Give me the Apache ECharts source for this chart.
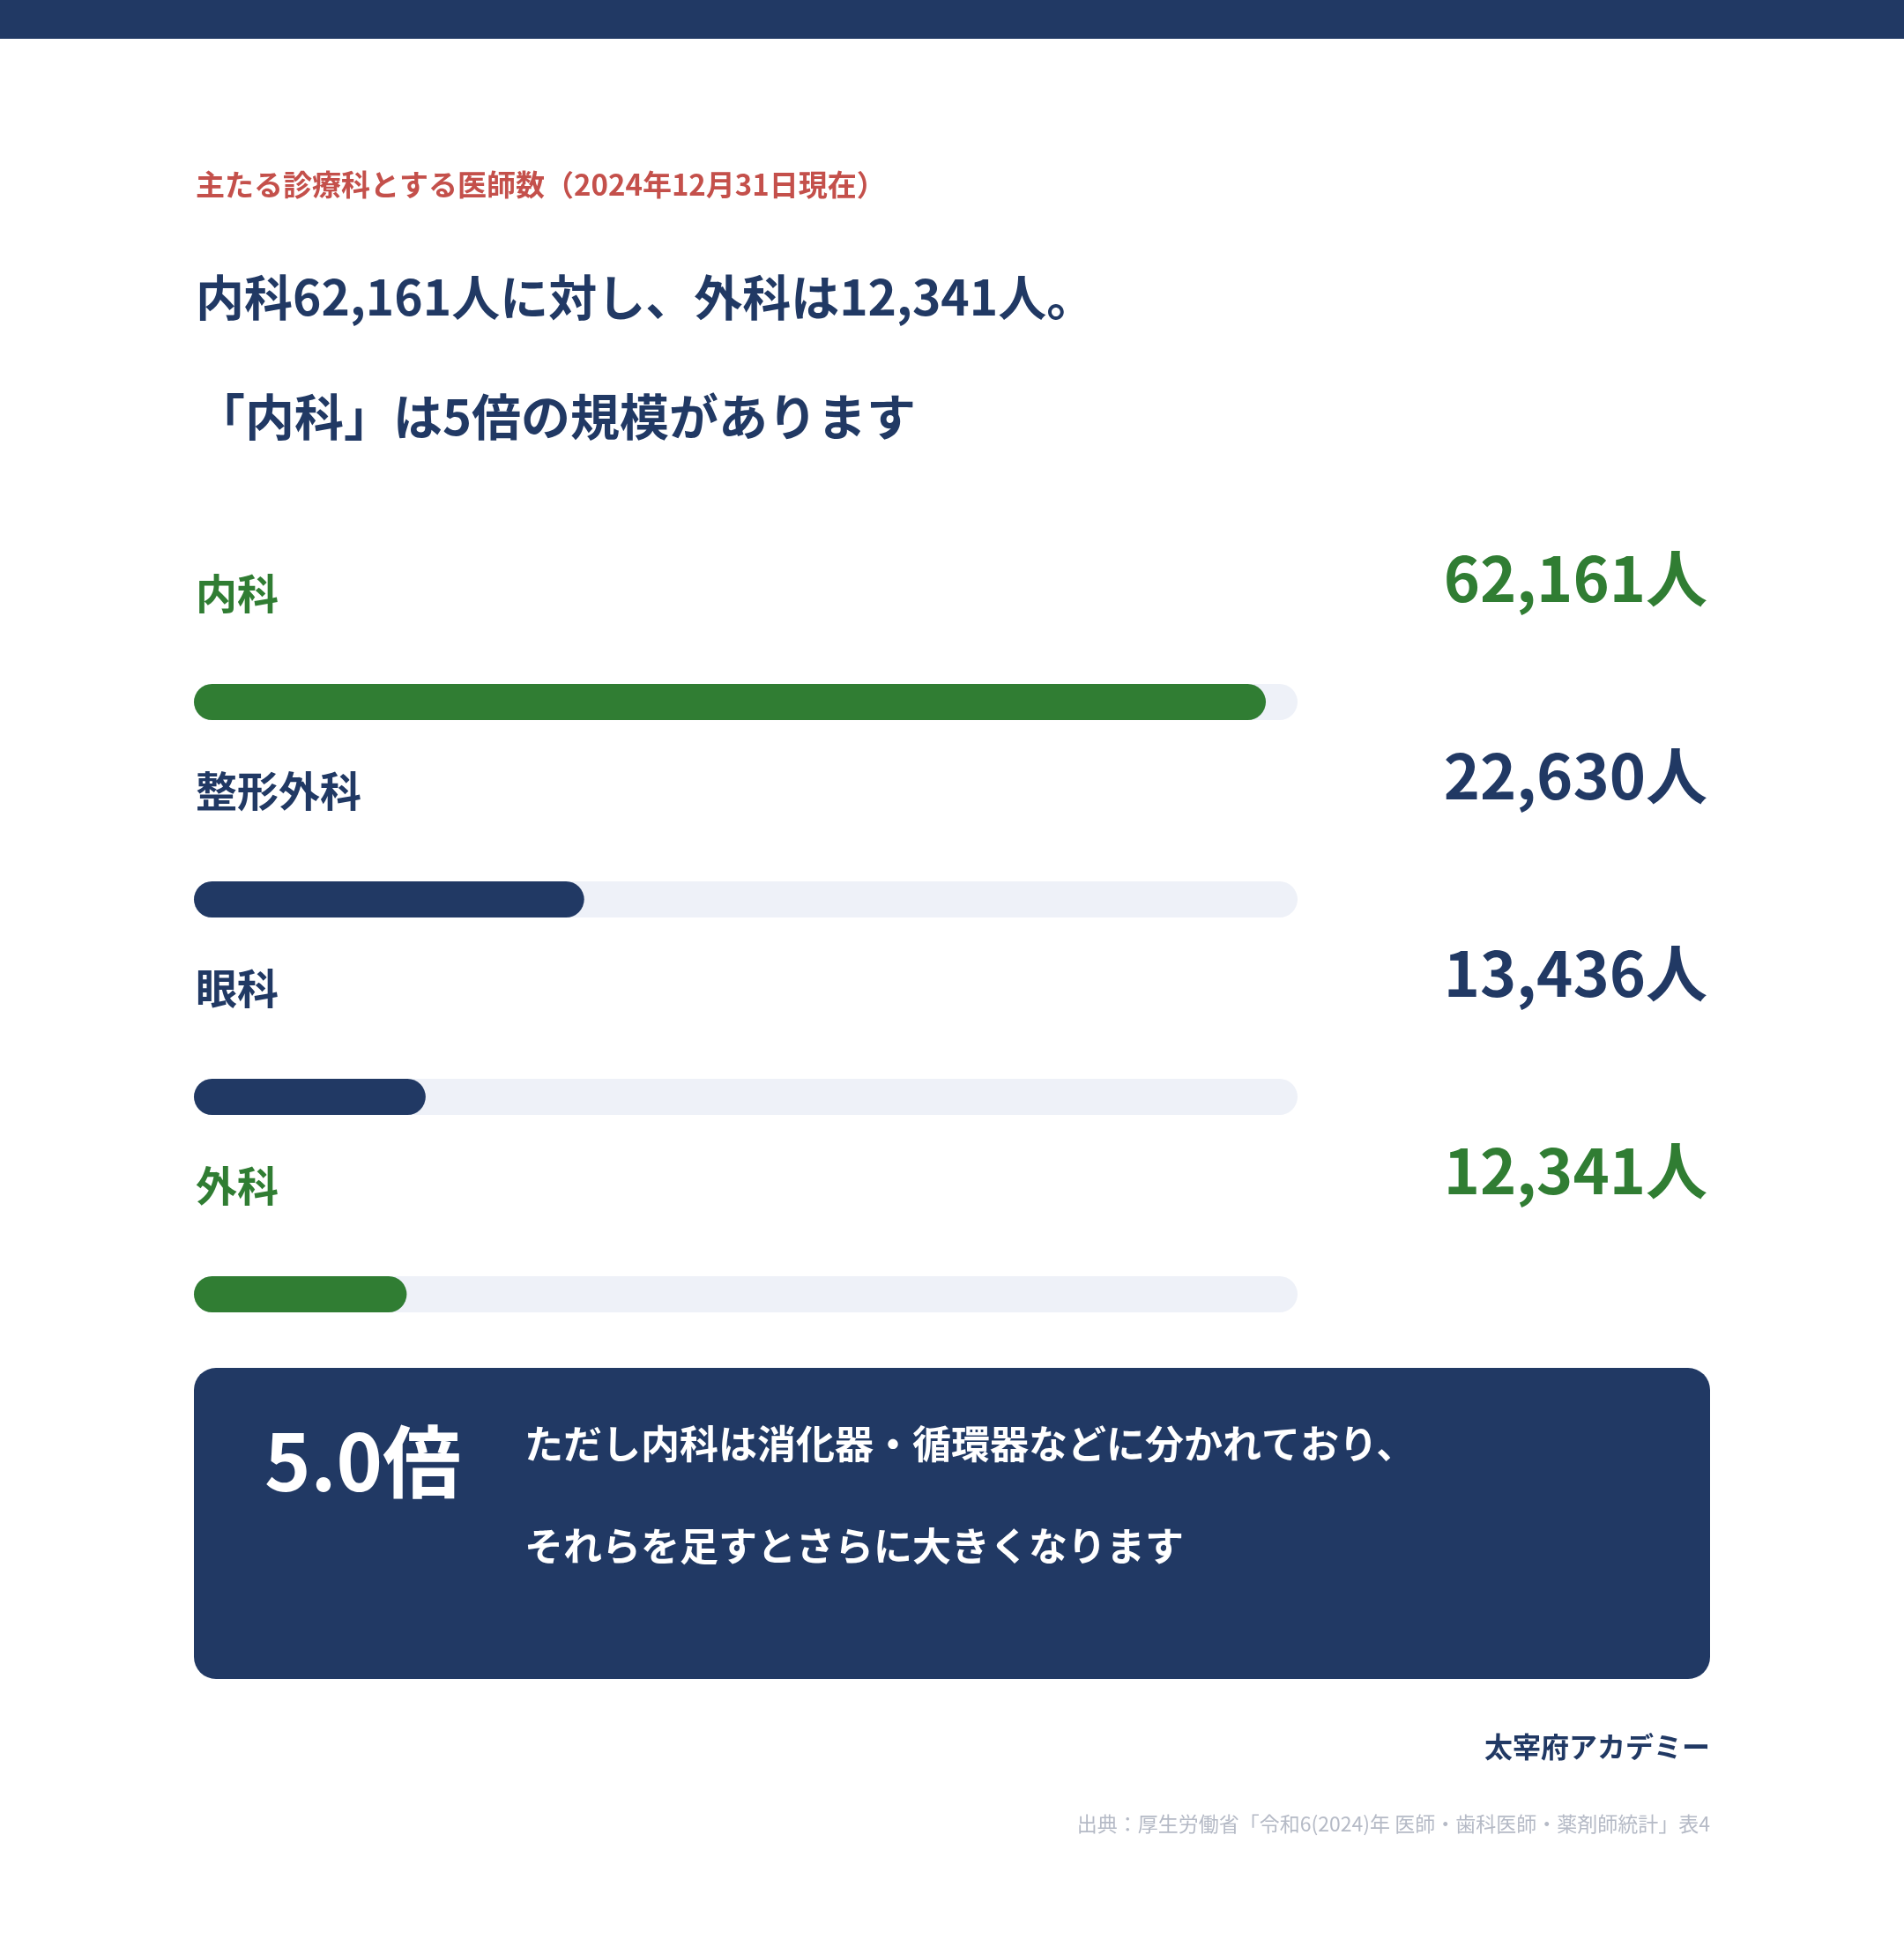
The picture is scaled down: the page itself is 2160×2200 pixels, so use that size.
<!DOCTYPE html>
<html lang="ja">
<head>
<meta charset="utf-8">
<title>主たる診療科とする医師数</title>
<script src="https://cdn.jsdelivr.net/npm/echarts@6/dist/echarts.min.js"></script>
<style>
  html, body { margin: 0; padding: 0; background: #ffffff; }
  #container { width: 2160px; height: 2200px; }
</style>
</head>
<body>
<div id="container"></div>
<script>
// 診療科ごとの医師数（2024年12月31日現在）
var categories = ['内科', '整形外科', '眼科', '外科'];
var doctors = [62161, 22630, 13436, 12341];
var highlighted = ['内科', '外科'];
var axisMax = 64000;

var NAVY = '#213964';
var GREEN = '#307d33';
var TRACK = '#eef1f8';
var FONT = '"Noto Sans CJK JP", "Noto Sans", sans-serif';

function fmt(v) {
    return v.toLocaleString('en-US');
}
function colorOf(name) {
    return highlighted.indexOf(name) >= 0 ? GREEN : NAVY;
}

var ratio = (doctors[0] / doctors[3]).toFixed(1);

document.addEventListener('DOMContentLoaded', function () {
    var dom = document.getElementById('container');
    var myChart = echarts.init(dom, null, { renderer: 'canvas' });

    var barData = categories.map(function (name, i) {
        return {
            value: doctors[i],
            itemStyle: { color: colorOf(name) },
            label: { color: colorOf(name) }
        };
    });
    var valueData = categories.map(function (name, i) {
        return {
            value: [axisMax, name],
            label: { color: colorOf(name), formatter: fmt(doctors[i]) + '人' }
        };
    });

    var option = {
        animation: false,
        backgroundColor: '#ffffff',
        textStyle: { fontFamily: FONT },
        grid: { left: 220, top: 684.5, width: 1252, height: 896, containLabel: false },
        xAxis: { type: 'value', min: 0, max: axisMax, show: false },
        yAxis: { type: 'category', data: categories, inverse: true, show: false },
        graphic: [
            { type: 'rect', shape: { x: 0, y: 0, width: 2160, height: 44 }, style: { fill: NAVY } },
            {
                type: 'text', x: 222, y: 209,
                style: { text: '主たる診療科とする医師数（2024年12月31日現在）', fill: '#c4504b',
                         font: 'bold 33px ' + FONT, verticalAlign: 'middle' }
            },
            {
                type: 'text', x: 222, y: 337,
                style: { text: '内科' + fmt(doctors[0]) + '人に対し、外科は' + fmt(doctors[3]) + '人。',
                         fill: NAVY, font: 'bold 55px ' + FONT, verticalAlign: 'middle' }
            },
            {
                type: 'text', x: 222, y: 473,
                style: { text: '「内科」は5倍の規模があります', fill: NAVY,
                         font: 'bold 56px ' + FONT, verticalAlign: 'middle' }
            },
            {
                type: 'rect', shape: { x: 220, y: 1552, width: 1720, height: 353, r: 25 },
                style: { fill: NAVY }
            },
            {
                type: 'text', x: 300, y: 1658,
                style: { text: ratio + '倍', fill: '#ffffff', font: 'bold 89px ' + FONT, verticalAlign: 'middle' }
            },
            {
                type: 'text', x: 595, y: 1638,
                style: { text: 'ただし内科は消化器・循環器などに分かれており、', fill: '#ffffff',
                         font: 'bold 44px ' + FONT, verticalAlign: 'middle' }
            },
            {
                type: 'text', x: 595, y: 1754,
                style: { text: 'それらを足すとさらに大きくなります', fill: '#ffffff',
                         font: 'bold 44px ' + FONT, verticalAlign: 'middle' }
            },
            {
                type: 'text', x: 1940, y: 1982,
                style: { text: '太宰府アカデミー', fill: NAVY, font: 'bold 32px ' + FONT,
                         align: 'right', verticalAlign: 'middle' }
            },
            {
                type: 'text', x: 1940, y: 2069,
                style: { text: '出典：厚生労働省「令和6(2024)年 医師・歯科医師・薬剤師統計」表4', fill: '#b5bac6',
                         font: '23px ' + FONT, align: 'right', verticalAlign: 'middle' }
            }
        ],
        series: [
            {
                name: '医師数',
                type: 'bar',
                data: barData,
                barWidth: 41,
                silent: true,
                showBackground: true,
                backgroundStyle: { color: TRACK, borderRadius: 20.5 },
                itemStyle: { borderRadius: 20.5 },
                label: {
                    show: true,
                    position: 'insideLeft',
                    distance: 0,
                    offset: [2, -123],
                    formatter: '{b}',
                    fontSize: 47,
                    fontWeight: 'bold',
                    fontFamily: FONT
                }
            },
            {
                name: '人数',
                type: 'scatter',
                data: valueData,
                symbolSize: 1,
                silent: true,
                itemStyle: { color: 'rgba(0,0,0,0)', opacity: 1 },
                label: {
                    show: true,
                    position: 'inside',
                    align: 'right',
                    verticalAlign: 'middle',
                    offset: [465, -140],
                    fontSize: 70,
                    fontWeight: 'bold',
                    fontFamily: FONT
                }
            }
        ]
    };

    myChart.setOption(option);
    window.addEventListener('resize', myChart.resize);
});
</script>
</body>
</html>
